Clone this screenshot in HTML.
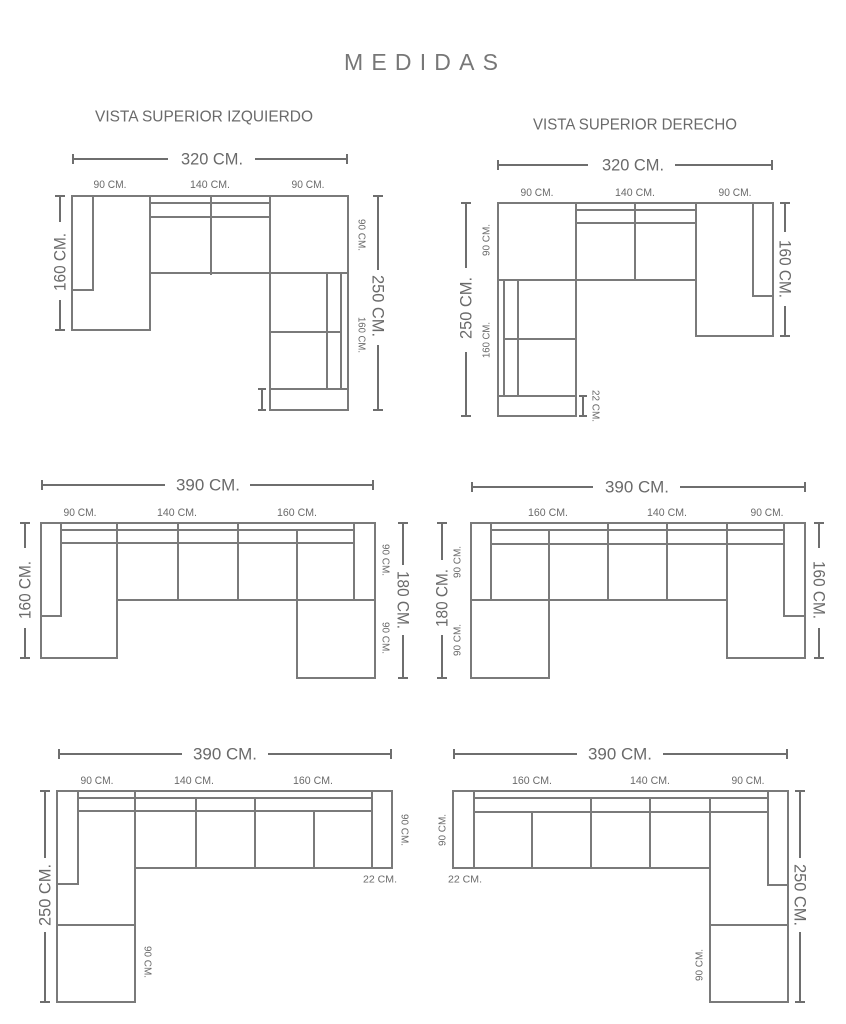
<!DOCTYPE html>
<html><head><meta charset="utf-8"><style>
html,body{margin:0;padding:0;background:#fff;}
svg{display:block;}
.l{stroke:#7a7a7a;stroke-width:2;fill:none;stroke-linecap:square}
.d{stroke:#6e6e6e;stroke-width:2;fill:none}
text{font-family:"Liberation Sans",sans-serif;fill:#6a6a6a;text-anchor:middle;dominant-baseline:central}
.b{font-size:17px}
.s{font-size:11px}
.r{font-size:10px}
</style></head><body>
<svg width="846" height="1024" viewBox="0 0 846 1024">
<text x="421" y="62" style="font-size:23px;fill:#777" textLength="154" lengthAdjust="spacing">MEDIDAS</text>
<text x="204" y="117" style="font-size:16px" textLength="218" lengthAdjust="spacingAndGlyphs">VISTA SUPERIOR IZQUIERDO</text>
<text x="635" y="125" style="font-size:16px" textLength="204" lengthAdjust="spacingAndGlyphs">VISTA SUPERIOR DERECHO</text>

<!-- Diagram 1 -->
<g class="d">
<path d="M73 159H168M255 159H347M73 154V164M347 154V164"/>
<path d="M60 196V222M60 300V330M55 196H65M55 330H65"/>
<path d="M378 196V270M378 345V410M373 196H383M373 410H383"/>
<path d="M262 389V410M258 389H266M258 410H266"/>
</g>
<text class="b" x="212" y="159" textLength="62" lengthAdjust="spacingAndGlyphs">320 CM.</text>
<text class="s" x="110" y="185" textLength="33" lengthAdjust="spacingAndGlyphs">90 CM.</text>
<text class="s" x="210" y="185" textLength="40" lengthAdjust="spacingAndGlyphs">140 CM.</text>
<text class="s" x="308" y="185" textLength="33" lengthAdjust="spacingAndGlyphs">90 CM.</text>
<text class="b" transform="translate(60,262) rotate(-90)" textLength="58" lengthAdjust="spacingAndGlyphs">160 CM.</text>
<text class="b" transform="translate(378,306) rotate(90)" textLength="62" lengthAdjust="spacingAndGlyphs">250 CM.</text>
<text class="r" transform="translate(361,235) rotate(90)" textLength="32" lengthAdjust="spacingAndGlyphs">90 CM.</text>
<text class="r" transform="translate(361,335) rotate(90)" textLength="36" lengthAdjust="spacingAndGlyphs">160 CM.</text>
<g class="l">
<rect x="72" y="196" width="78" height="134"/>
<path d="M93 196V290H72"/>
<path d="M150 196H348V410H270V273H150"/>
<path d="M150 203H270M150 217H270M211 196V274M270 196V273H348"/>
<path d="M327 273V389M341 273V389M270 332H341M270 389H348"/>
</g>

<!-- Diagram 2 -->
<g class="d">
<path d="M498 165H588M675 165H772M498 160V170M772 160V170"/>
<path d="M466 203V268M466 352V416M461 203H471M461 416H471"/>
<path d="M785 203V232M785 306V336M780 203H790M780 336H790"/>
<path d="M583 396V416M579 396H587M579 416H587"/>
</g>
<text class="b" x="633" y="165" textLength="62" lengthAdjust="spacingAndGlyphs">320 CM.</text>
<text class="s" x="537" y="193" textLength="33" lengthAdjust="spacingAndGlyphs">90 CM.</text>
<text class="s" x="635" y="193" textLength="40" lengthAdjust="spacingAndGlyphs">140 CM.</text>
<text class="s" x="735" y="193" textLength="33" lengthAdjust="spacingAndGlyphs">90 CM.</text>
<text class="b" transform="translate(466,308) rotate(-90)" textLength="62" lengthAdjust="spacingAndGlyphs">250 CM.</text>
<text class="b" transform="translate(785,269) rotate(90)" textLength="58" lengthAdjust="spacingAndGlyphs">160 CM.</text>
<text class="r" transform="translate(487,240) rotate(-90)" textLength="32" lengthAdjust="spacingAndGlyphs">90 CM.</text>
<text class="r" transform="translate(487,340) rotate(-90)" textLength="36" lengthAdjust="spacingAndGlyphs">160 CM.</text>
<text class="r" transform="translate(595,406) rotate(90)" textLength="32" lengthAdjust="spacingAndGlyphs">22 CM.</text>
<g class="l">
<path d="M498 203H773V336H696V280H576V416H498Z"/>
<path d="M498 280H576M576 203V280M696 203V280M576 210H696M576 223H696M635 203V280"/>
<path d="M753 203V296H773"/>
<path d="M504 280V396M518 280V396M504 339H576M498 396H576"/>
</g>

<!-- Diagram 3 -->
<g class="d">
<path d="M42 485H165M250 485H373M42 480V490M373 480V490"/>
<path d="M25 523V548M25 628V658M20 523H30M20 658H30"/>
<path d="M403 523V565M403 635V678M398 523H408M398 678H408"/>
</g>
<text class="b" x="208" y="485" textLength="64" lengthAdjust="spacingAndGlyphs">390 CM.</text>
<text class="s" x="80" y="513" textLength="33" lengthAdjust="spacingAndGlyphs">90 CM.</text>
<text class="s" x="177" y="513" textLength="40" lengthAdjust="spacingAndGlyphs">140 CM.</text>
<text class="s" x="297" y="513" textLength="40" lengthAdjust="spacingAndGlyphs">160 CM.</text>
<text class="b" transform="translate(25,590) rotate(-90)" textLength="58" lengthAdjust="spacingAndGlyphs">160 CM.</text>
<text class="b" transform="translate(403,600) rotate(90)" textLength="58" lengthAdjust="spacingAndGlyphs">180 CM.</text>
<text class="r" transform="translate(385,560) rotate(90)" textLength="32" lengthAdjust="spacingAndGlyphs">90 CM.</text>
<text class="r" transform="translate(385,638) rotate(90)" textLength="32" lengthAdjust="spacingAndGlyphs">90 CM.</text>
<g class="l">
<path d="M41 523H375V678H297V600H117V658H41Z"/>
<path d="M61 523V616H41M61 530H354M61 543H354M117 523V600M178 523V600M238 523V600M297 530V600H375M354 523V600"/>
</g>

<!-- Diagram 4 -->
<g class="d">
<path d="M472 487H593M680 487H805M472 482V492M805 482V492"/>
<path d="M442 523V560M442 635V678M437 523H447M437 678H447"/>
<path d="M819 523V548M819 628V658M814 523H824M814 658H824"/>
</g>
<text class="b" x="637" y="487" textLength="64" lengthAdjust="spacingAndGlyphs">390 CM.</text>
<text class="s" x="548" y="513" textLength="40" lengthAdjust="spacingAndGlyphs">160 CM.</text>
<text class="s" x="667" y="513" textLength="40" lengthAdjust="spacingAndGlyphs">140 CM.</text>
<text class="s" x="767" y="513" textLength="33" lengthAdjust="spacingAndGlyphs">90 CM.</text>
<text class="b" transform="translate(442,598) rotate(-90)" textLength="58" lengthAdjust="spacingAndGlyphs">180 CM.</text>
<text class="b" transform="translate(819,590) rotate(90)" textLength="58" lengthAdjust="spacingAndGlyphs">160 CM.</text>
<text class="r" transform="translate(458,562) rotate(-90)" textLength="32" lengthAdjust="spacingAndGlyphs">90 CM.</text>
<text class="r" transform="translate(458,640) rotate(-90)" textLength="32" lengthAdjust="spacingAndGlyphs">90 CM.</text>
<g class="l">
<path d="M471 523H805V658H727V600H549V678H471Z"/>
<path d="M491 523V600M471 600H549M491 530H784M491 544H784M549 530V600M608 523V600M667 523V600M727 523V600M784 523V616H805"/>
</g>

<!-- Diagram 5 -->
<g class="d">
<path d="M59 754H182M268 754H391M59 749V759M391 749V759"/>
<path d="M45 791V858M45 932V1002M40 791H50M40 1002H50"/>
</g>
<text class="b" x="225" y="754" textLength="64" lengthAdjust="spacingAndGlyphs">390 CM.</text>
<text class="s" x="97" y="781" textLength="33" lengthAdjust="spacingAndGlyphs">90 CM.</text>
<text class="s" x="194" y="781" textLength="40" lengthAdjust="spacingAndGlyphs">140 CM.</text>
<text class="s" x="313" y="781" textLength="40" lengthAdjust="spacingAndGlyphs">160 CM.</text>
<text class="b" transform="translate(45,895) rotate(-90)" textLength="62" lengthAdjust="spacingAndGlyphs">250 CM.</text>
<text class="r" transform="translate(404,830) rotate(90)" textLength="32" lengthAdjust="spacingAndGlyphs">90 CM.</text>
<text class="r" x="380" y="880" textLength="34" lengthAdjust="spacingAndGlyphs">22 CM.</text>
<text class="r" transform="translate(147,962) rotate(90)" textLength="32" lengthAdjust="spacingAndGlyphs">90 CM.</text>
<g class="l">
<path d="M57 791H392V868H135V1002H57Z"/>
<path d="M78 791V884H57M57 925H135M78 798H372M78 811H372M135 791V868M196 798V868M255 798V868M314 811V868M372 791V868"/>
</g>

<!-- Diagram 6 -->
<g class="d">
<path d="M454 754H577M663 754H787M454 749V759M787 749V759"/>
<path d="M800 791V858M800 932V1002M795 791H805M795 1002H805"/>
</g>
<text class="b" x="620" y="754" textLength="64" lengthAdjust="spacingAndGlyphs">390 CM.</text>
<text class="s" x="532" y="781" textLength="40" lengthAdjust="spacingAndGlyphs">160 CM.</text>
<text class="s" x="650" y="781" textLength="40" lengthAdjust="spacingAndGlyphs">140 CM.</text>
<text class="s" x="748" y="781" textLength="33" lengthAdjust="spacingAndGlyphs">90 CM.</text>
<text class="b" transform="translate(800,895) rotate(90)" textLength="62" lengthAdjust="spacingAndGlyphs">250 CM.</text>
<text class="r" transform="translate(443,830) rotate(-90)" textLength="32" lengthAdjust="spacingAndGlyphs">90 CM.</text>
<text class="r" x="465" y="880" textLength="34" lengthAdjust="spacingAndGlyphs">22 CM.</text>
<text class="r" transform="translate(700,965) rotate(-90)" textLength="32" lengthAdjust="spacingAndGlyphs">90 CM.</text>
<g class="l">
<path d="M453 791H788V1002H710V868H453Z"/>
<path d="M474 791V868M474 798H768M474 812H768M532 812V868M591 798V868M650 798V868M710 798V868M768 791V885H788M710 925H788"/>
</g>
</svg>
</body></html>
